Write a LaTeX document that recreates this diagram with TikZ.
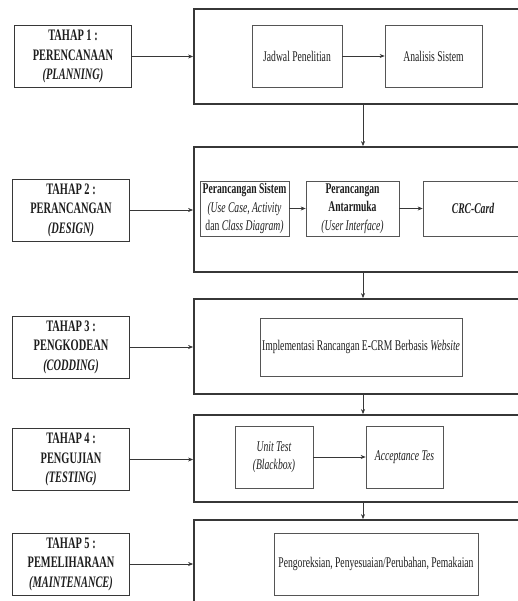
\documentclass[tikz,border=0pt]{standalone}
\usepackage{fontspec}
\setmainfont{Liberation Serif}[FakeStretch=0.65]
\usetikzlibrary{arrows.meta}
\definecolor{garis}{RGB}{55, 55, 55}
\definecolor{teks}{RGB}{30, 30, 30}

\begin{document}
\begin{tikzpicture}[x=1pt, y=-1pt,
        tahap/.style={draw=garis, line width=0.9pt, align=center, text=teks, font=\fontsize{16}{19.5}\selectfont\bfseries, minimum width=117pt, minimum height=62pt, inner sep=0pt},
        wadah/.style={draw=garis, line width=1.8pt, minimum width=338pt, inner sep=0pt},
        isi/.style={draw=garis!85, line width=0.7pt, align=center, text=teks, font=\fontsize{14.8}{18.5}\selectfont, minimum height=62pt, inner sep=0pt},
        panah/.style={garis, line width=0.6pt, -{Stealth[length=5pt, width=4pt]}}]
        \useasboundingbox (0,0) rectangle (518,601);
        \clip (0,0) rectangle (518,601);
        \node[wadah, minimum height=95pt] (B1) at (363, 56.5) {};
        \node[wadah, minimum height=125pt] (B2) at (363, 209.5) {};
        \node[wadah, minimum height=95pt] (B3) at (363, 346.5) {};
        \node[wadah, minimum height=87pt] (B4) at (363, 458.5) {};
        \node[wadah, minimum height=90pt] (B5) at (363, 565) {};
        \node[tahap] (S1) at (73, 56.5) {TAHAP 1 :\\PERENCANAAN\\\textit{(PLANNING)}};
        \node[tahap] (S2) at (71, 210) {TAHAP 2 :\\PERANCANGAN\\\textit{(DESIGN)}};
        \node[tahap] (S3) at (71, 347) {TAHAP 3 :\\PENGKODEAN\\\textit{(CODDING)}};
        \node[tahap] (S4) at (71, 459.5) {TAHAP 4 :\\PENGUJIAN\\\textit{(TESTING)}};
        \node[tahap] (S5) at (71, 564) {TAHAP 5 :\\PEMELIHARAAN\\\textit{(MAINTENANCE)}};
        \node[isi, minimum width=90pt] (J) at (297, 56) {Jadwal Penelitian};
        \node[isi, minimum width=97pt] (A) at (433.5, 56) {Analisis Sistem};
        \node[isi, minimum width=89pt, minimum height=55pt] (PS) at (244.5, 208.5) {\textbf{Perancangan Sistem}\\\textit{(Use Case, Activity}\\dan \textit{Class Diagram)}};
        \node[isi, minimum width=93pt, minimum height=55pt] (PA) at (352.5, 208.5) {\textbf{Perancangan}\\\textbf{Antarmuka}\\\textit{(User Interface)}};
        \node[isi, minimum width=100pt, minimum height=55pt] (C) at (473, 208.5) {\textbf{\textit{CRC-Card}}};
        \node[isi, minimum width=202pt, minimum height=58pt] (I) at (361, 347) {Implementasi Rancangan E-CRM Berbasis \textit{Website}};
        \node[isi, minimum width=78pt] (U) at (274, 457) {\textit{Unit Test}\\\textit{(Blackbox)}};
        \node[isi, minimum width=77pt] (T) at (404.5, 457) {\textit{Acceptance Tes}};
        \node[isi, minimum width=204pt] (P) at (376, 564) {Pengoreksian, Penyesuaian/Perubahan, Pemakaian};
        \draw[panah] (S1.east) -- (S1.east -| B1.west);
        \draw[panah] (S2.east) -- (S2.east -| B2.west);
        \draw[panah] (S3.east) -- (S3.east -| B3.west);
        \draw[panah] (S4.east) -- (S4.east -| B4.west);
        \draw[panah] (S5.east) -- (S5.east -| B5.west);
        \draw[panah] (J) -- (A);
        \draw[panah] (PS) -- (PA);
        \draw[panah] (PA) -- (C);
        \draw[panah] (U.east) -- (U.east -| T.west);
        \draw[panah] (B1) -- (B2);
        \draw[panah] (B2) -- (B3);
        \draw[panah] (B3) -- (B4);
        \draw[panah] (B4) -- (B5);
    \end{tikzpicture}
\end{document}
